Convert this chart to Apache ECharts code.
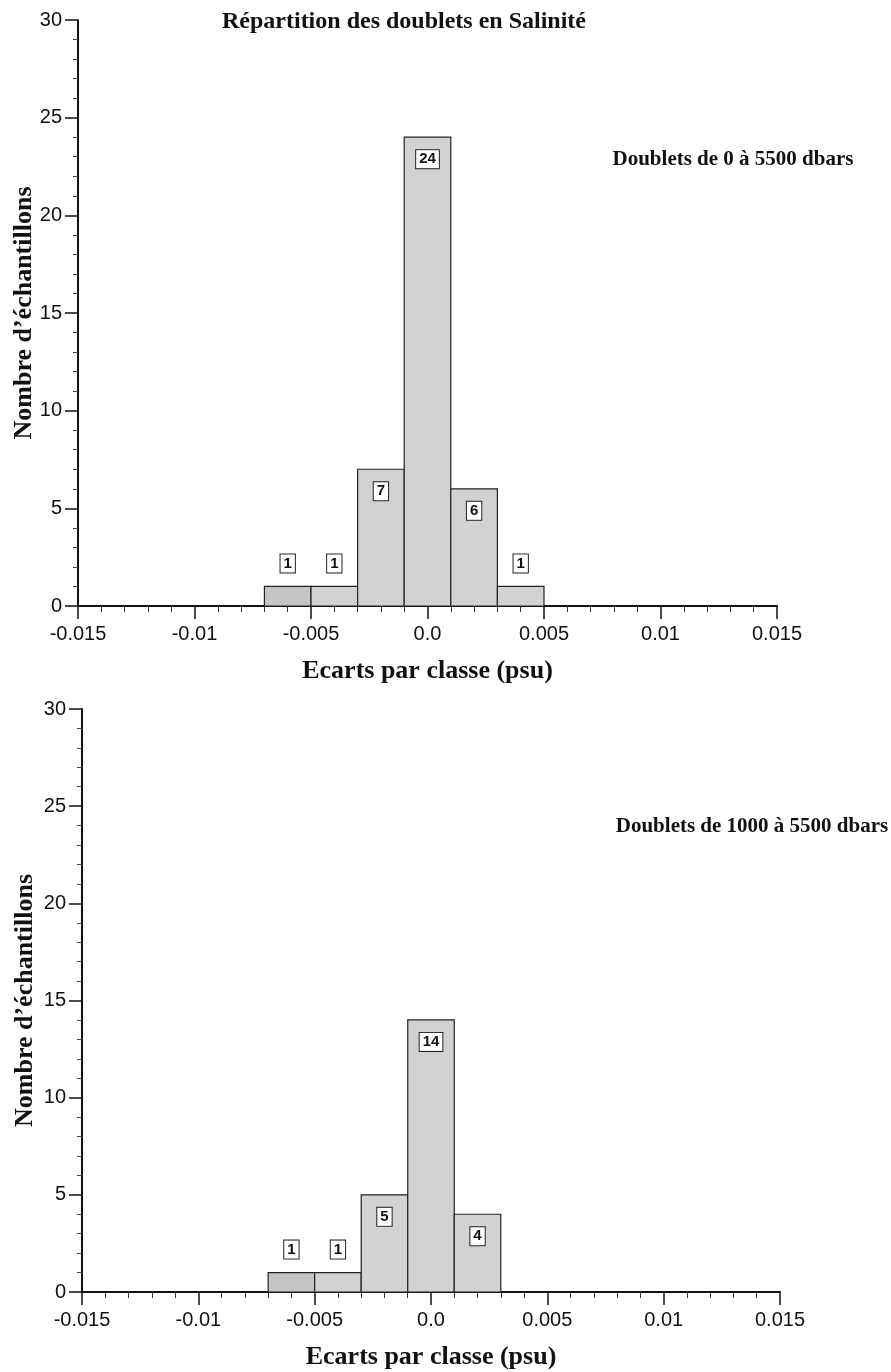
<!DOCTYPE html>
<html>
<head>
<meta charset="utf-8">
<script src="https://cdn.jsdelivr.net/npm/echarts@6/dist/echarts.min.js"></script>
<style>
html,body{margin:0;padding:0;background:#fff;}
#chart{width:891px;height:1372px;}
</style>
</head>
<body>
<div id="chart"></div>
<script>
// ---- data ----
var binCenters = [-0.006, -0.004, -0.002, 0.0, 0.002, 0.004];
var binWidth = 0.002;
var countsAll = [1, 1, 7, 24, 6, 1];      // Doublets de 0 à 5500 dbars
var countsDeep = [1, 1, 5, 14, 4, 0];     // Doublets de 1000 à 5500 dbars
var xTickValues = [-0.015, -0.01, -0.005, 0.0, 0.005, 0.01, 0.015];
var xTickLabels = ['-0.015', '-0.01', '-0.005', '0.0', '0.005', '0.01', '0.015'];
var yTickLabels = ['0', '5', '10', '15', '20', '25', '30'];
var mainTitle = 'Répartition des doublets en Salinité';
var subTitles = ['Doublets de 0 à 5500 dbars', 'Doublets de 1000 à 5500 dbars'];
var xName = 'Ecarts par classe (psu)';
var yName = 'Nombre d\u2019échantillons';

var serif = '"Liberation Serif", "Times New Roman", serif';
var sans = '"Liberation Sans", Arial, Helvetica, sans-serif';

function buildData(counts) {
  var d = [];
  for (var i = 0; i < binCenters.length; i++) {
    if (counts[i] > 0) d.push([binCenters[i] - binWidth / 2, binCenters[i] + binWidth / 2, counts[i], i]);
  }
  return d;
}

function renderItem(params, api) {
  var x0 = api.value(0), x1 = api.value(1), v = api.value(2), idx = api.value(3);
  var p0 = api.coord([x0, 0]);
  var p1 = api.coord([x1, v]);
  var small = v <= 1;
  var cx = (p0[0] + p1[0]) / 2;
  var ly = small ? p1[1] - 23 : p1[1] + 22;
  return {
    type: 'group',
    children: [
      {
        type: 'rect',
        shape: { x: p0[0], y: p1[1], width: p1[0] - p0[0], height: p0[1] - p1[1] },
        style: { fill: idx === 0 ? '#c4c4c4' : '#d2d2d2', stroke: '#222', lineWidth: 1.2 }
      },
      {
        type: 'text',
        x: cx, y: ly,
        style: {
          text: String(v), align: 'center', verticalAlign: 'middle',
          font: 'bold 15px ' + sans, fill: '#111',
          backgroundColor: '#fff', borderColor: '#222', borderWidth: 1,
          padding: [2, 3, 1, 3]
        }
      }
    ]
  };
}

function xAxisFor(gi) {
  return {
    gridIndex: gi, type: 'value', min: -0.015, max: 0.015, interval: 0.005,
    name: xName, nameLocation: 'middle', nameGap: 52, nameMoveOverlap: false,
    nameTextStyle: { fontFamily: serif, fontWeight: 'bold', fontSize: 26, color: '#111' },
    axisLine: { show: true, onZero: false, lineStyle: { color: '#111', width: 2 } },
    axisTick: { show: true, inside: false, length: 13, lineStyle: { color: '#111', width: 1.5 } },
    minorTick: { show: true, splitNumber: 5, length: 6, lineStyle: { color: '#333', width: 1 } },
    splitLine: { show: false },
    axisLabel: {
      margin: 18, fontFamily: sans, fontSize: 20, color: '#111',
      formatter: function (v) {
        for (var i = 0; i < xTickValues.length; i++) if (Math.abs(v - xTickValues[i]) < 1e-9) return xTickLabels[i];
        return '';
      }
    }
  };
}

function yAxisFor(gi, gap) {
  return {
    gridIndex: gi, type: 'value', min: 0, max: 30, interval: 5,
    name: yName, nameLocation: 'middle', nameGap: gap, nameRotate: 90, nameMoveOverlap: false,
    nameTextStyle: { fontFamily: serif, fontWeight: 'bold', fontSize: 26, color: '#111' },
    axisLine: { show: true, onZero: false, lineStyle: { color: '#111', width: 2 } },
    axisTick: { show: true, inside: false, length: 13, lineStyle: { color: '#111', width: 1.5 } },
    minorTick: { show: true, splitNumber: 5, length: 5, lineStyle: { color: '#444', width: 1 } },
    splitLine: { show: false },
    axisLabel: {
      margin: 16, fontFamily: sans, fontSize: 20, color: '#111',
      formatter: function (v) { return yTickLabels[Math.round(v / 5)]; }
    }
  };
}

var chart = echarts.init(document.getElementById('chart'), null, { renderer: 'canvas' });
chart.setOption({
  backgroundColor: '#fff',
  animation: false,
  grid: [
    { left: 78, right: 114, top: 20, bottom: 766, containLabel: false, outerBoundsMode: 'none' },
    { left: 82, right: 111, top: 709, bottom: 80, containLabel: false, outerBoundsMode: 'none' }
  ],
  xAxis: [xAxisFor(0), xAxisFor(1)],
  yAxis: [yAxisFor(0, 41), yAxisFor(1, 44)],
  graphic: [
    { type: 'text', x: 404, y: 22, style: { text: mainTitle, align: 'center', verticalAlign: 'middle', font: 'bold 24px ' + serif, fill: '#111' } },
    { type: 'text', x: 733, y: 160, style: { text: subTitles[0], align: 'center', verticalAlign: 'middle', font: 'bold 21px ' + serif, fill: '#111' } },
    { type: 'text', x: 752, y: 827, style: { text: subTitles[1], align: 'center', verticalAlign: 'middle', font: 'bold 21px ' + serif, fill: '#111' } }
  ],
  series: [
    { type: 'custom', xAxisIndex: 0, yAxisIndex: 0, renderItem: renderItem, data: buildData(countsAll), encode: { x: [0, 1], y: 2 } },
    { type: 'custom', xAxisIndex: 1, yAxisIndex: 1, renderItem: renderItem, data: buildData(countsDeep), encode: { x: [0, 1], y: 2 } }
  ]
});
</script>
</body>
</html>
